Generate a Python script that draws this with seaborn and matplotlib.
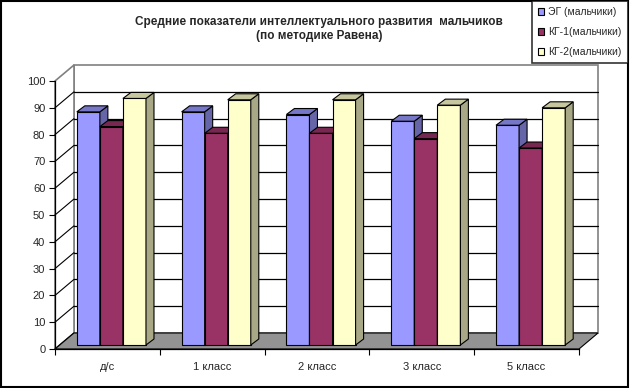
import numpy as np
import pandas as pd
import seaborn as sns
import matplotlib.pyplot as plt
from matplotlib.patches import Polygon, Rectangle, Patch
from matplotlib.lines import Line2D
from matplotlib.colors import to_rgb
from matplotlib.transforms import offset_copy

# -----------------------------
# DATA
# -----------------------------
categories = ["д/с", "1 класс", "2 класс", "3 класс", "5 класс"]
series = ["ЭГ (мальчики)", "КГ-1(мальчики)", "КГ-2(мальчики)"]
eg_values = [87, 87, 86, 83.5, 82]
kg1_values = [81.5, 79, 79, 77, 73.5]
kg2_values = [92, 91.5, 91.5, 89.5, 88.5]
y_ticks = [0, 10, 20, 30, 40, 50, 60, 70, 80, 90, 100]

colors = ["#9999FF", "#993366", "#FFFFCC"]

df = pd.DataFrame({
    "class": categories * 3,
    "group": [s for s in series for _ in categories],
    "value": eg_values + kg1_values + kg2_values,
})

# -----------------------------
# FIGURE
# -----------------------------
sns.set_style("white")
plt.rcParams["font.family"] = ["Liberation Sans", "DejaVu Sans"]

fig = plt.figure(figsize=(6.3, 3.88), dpi=100)
ax = fig.add_axes([55 / 630, 39 / 388, 524 / 630, 268 / 388])
ax.set_facecolor("none")

sns.barplot(data=df, x="class", y="value", hue="group", palette=colors,
            width=0.66, gap=0, saturation=1, edgecolor="black",
            linewidth=0.8, legend=False, ax=ax)
ax.set_xlim(-0.5, 4.5)
ax.set_ylim(0, 100)

# pixel -> data conversion for the fake 3D depth
pxx = ax.bbox.width / 5
pxy = ax.bbox.height / 100
Dx, Dy = 19 / pxx, 16 / pxy      # wall depth
bdx, bdy = 8 / pxx, 6 / pxy      # bar depth

# -----------------------------
# WALLS AND FLOOR
# -----------------------------
gray = "#808080"
x0, x1 = -0.5, 4.5
ax.add_patch(Polygon([(x0 + Dx, Dy), (x1 + Dx, Dy), (x1 + Dx, 100 + Dy), (x0 + Dx, 100 + Dy)],
                     closed=True, facecolor="white", edgecolor=gray, lw=1.2,
                     clip_on=False, zorder=0.5))
ax.add_patch(Polygon([(x0, 0), (x0, 100), (x0 + Dx, 100 + Dy), (x0 + Dx, Dy)],
                     closed=True, facecolor="white", edgecolor=gray, lw=1.2,
                     clip_on=False, zorder=0.5))
for v in y_ticks[1:-1]:
    ax.add_line(Line2D([x0 + Dx, x1 + Dx], [v + Dy, v + Dy], color="black",
                       lw=0.9, clip_on=False, zorder=1))
for v in y_ticks[:-1]:
    ax.add_line(Line2D([x0, x0 + Dx], [v, v + Dy], color="black",
                       lw=0.8, clip_on=False, zorder=1))
ax.add_patch(Polygon([(x0, 0), (x1, 0), (x1 + Dx, Dy), (x0 + Dx, Dy)],
                     closed=True, facecolor="#939393", edgecolor="black", lw=0.8,
                     clip_on=False, zorder=1.5))

# -----------------------------
# 3D BARS
# -----------------------------
bar_tr = offset_copy(ax.transData, fig=fig, x=4, y=4, units="dots")
n = len(categories)
for p in list(ax.patches):
    if not isinstance(p, Rectangle) or p.get_height() <= 0:
        continue
    k = [s for s in range(3) if np.allclose(to_rgb(p.get_facecolor()), to_rgb(colors[s]))]
    if not k:
        continue
    k = k[0]
    base = np.array(to_rgb(colors[k]))
    xb, w, h = p.get_x(), p.get_width(), p.get_height()
    z = 3 + k
    p.set_transform(bar_tr)
    p.set_zorder(z)
    side = [(xb + w, 0), (xb + w, h), (xb + w + bdx, h + bdy), (xb + w + bdx, bdy)]
    top = [(xb, h), (xb + w, h), (xb + w + bdx, h + bdy), (xb + bdx, h + bdy)]
    ax.add_patch(Polygon(side, closed=True, facecolor=base * 0.66, edgecolor="black",
                         lw=0.8, transform=bar_tr, clip_on=False, zorder=z))
    ax.add_patch(Polygon(top, closed=True, facecolor=base * 0.78, edgecolor="black",
                         lw=0.8, transform=bar_tr, clip_on=False, zorder=z))

# -----------------------------
# AXES
# -----------------------------
for s in ["top", "right"]:
    ax.spines[s].set_visible(False)
for s in ["left", "bottom"]:
    ax.spines[s].set_color("black")
    ax.spines[s].set_linewidth(0.9)
ax.set_yticks(y_ticks)
ax.set_xticks(range(n))
ax.set_xticklabels(categories)
ax.set_xticks(np.arange(-0.5, n, 1), minor=True)
ax.tick_params(axis="y", direction="out", length=4, width=0.8, color="black",
               pad=3, labelsize=8, left=True)
ax.tick_params(axis="x", which="major", length=0, pad=9, labelsize=8)
ax.tick_params(axis="x", which="minor", direction="out", length=4, width=0.8,
               color="black", bottom=True)
ax.set_xlabel("")
ax.set_ylabel("")

# -----------------------------
# TITLE, LEGEND, BORDER
# -----------------------------
fig.text(319 / 630, 1 - 29 / 388,
         "Средние показатели интеллектуального развития  мальчиков\n(по методике Равена)",
         ha="center", va="center", fontsize=8.5, fontweight="bold", linespacing=1.25)

handles = [Patch(facecolor=c, edgecolor="black", lw=0.8) for c in colors]
leg = fig.legend(handles, series, loc="upper right", bbox_to_anchor=(628 / 630, 1 - 1 / 388),
                 frameon=True, fancybox=False, edgecolor="black", fontsize=7.5,
                 handlelength=0.6, handleheight=0.6, handletextpad=0.4,
                 labelspacing=0.95, borderpad=0.6, borderaxespad=0)
leg.get_frame().set_linewidth(1.2)

fig.patches.append(Rectangle((0.002, 0.003), 0.995, 0.994, transform=fig.transFigure,
                             fill=False, edgecolor="black", lw=1.5))

fig.savefig("out.png", dpi=100)
